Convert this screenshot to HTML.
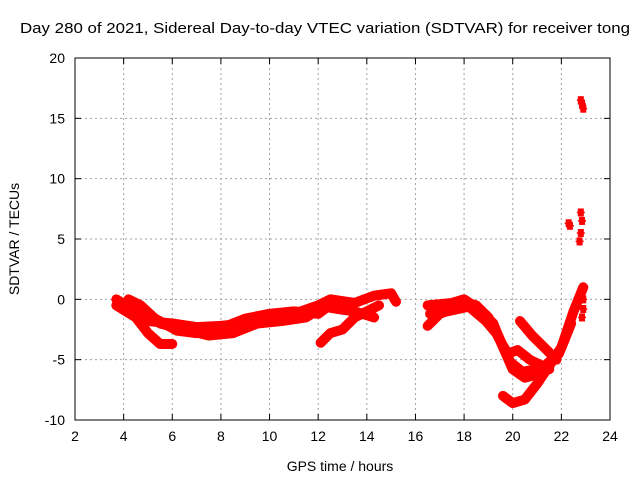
<!DOCTYPE html>
<html><head><meta charset="utf-8"><style>
body{margin:0;background:#fff}
svg{display:block;font-family:"Liberation Sans",sans-serif}
</style></head><body>
<svg id="c" width="640" height="480"></svg>
<script>
const xTicks=[2,4,6,8,10,12,14,16,18,20,22,24];
const yTicks=[-10,-5,0,5,10,15,20];
const trackA=[[3.7,0],[4.5,-1],[5,-1.8],[6,-2],[7,-2.3],[8,-2.2],[9,-2],[10,-1.3],[11,-1.2],[12,-0.5],[12.5,0],[13.5,-0.3],[14.3,0.3],[15,0.5],[15.2,-0.2]];
const trackB=[[3.7,-0.5],[4.5,-1.5],[5,-2.8],[5.5,-3.7],[6,-3.7]];
const trackC=[[4.2,0],[4.7,-0.5],[5.5,-2],[6.5,-2.5],[7.5,-3],[8.5,-2.8],[9.5,-2],[10.5,-1.8],[11.5,-1.5],[12.2,-0.6],[12.8,-0.8],[13.5,-1],[14.3,-1.5]];
const trackC2=[[4.5,-0.3],[5.2,-1.5],[6.2,-2.6],[7,-2.8],[8,-2.4],[9,-1.6],[10,-1.2],[11,-1],[12,-1.2],[12.6,-0.3]];
const trackD=[[12.1,-3.6],[12.5,-2.8],[13,-2.5],[13.5,-1.5],[14,-1],[14.5,-0.5]];
const trackE=[[16.5,-2.2],[17,-1.2],[17.5,-0.8],[18,-0.2],[18.5,-0.5],[19,-1.5],[19.5,-3.5],[20,-5.8],[20.5,-6.5],[21,-6.2],[21.5,-5.5],[22,-4],[22.5,-1],[22.9,1]];
const trackF=[[16.5,-0.5],[17.5,-0.3],[18,0],[18.6,-0.8],[19.2,-2],[19.5,-3.5],[19.8,-4.5],[20.2,-4.2],[20.7,-5],[21.2,-5.5],[21.5,-5.8]];
const trackF2=[[16.6,-1.2],[17.3,-1],[18.2,-0.6],[18.9,-1.8],[19.4,-3],[19.9,-5.2],[20.4,-6],[21.2,-5.7],[21.9,-4.5],[22.4,-2]];
const trackG=[[20.3,-1.8],[20.8,-3],[21.3,-4],[21.8,-5]];
const trackH=[[19.6,-8],[20,-8.6],[20.5,-8.3],[21,-7],[21.5,-5.5],[22,-4],[22.3,-2.5]];
const spikesX=[22.8,22.85,22.9,22.3,22.35,22.8,22.85,22.8,22.75,22.9,22.9,22.9,22.85];
const spikesY=[16.5,16.2,15.8,6.3,6.1,7.2,6.5,5.5,4.8,0.8,0,-0.8,-1.5];
const S=document.getElementById('c'),NS='http://www.w3.org/2000/svg';
const X0=75,X1=610,Y0=420,Y1=58;
const sx=h=>X0+(h-2)/22*(X1-X0), sy=v=>Y0-(v+10)/30*(Y0-Y1);
function mk(t,a,p){const e=document.createElementNS(NS,t);for(const k in a)e.setAttribute(k,a[k]);(p||S).appendChild(e);return e;}
const grid=mk('g',{});


xTicks.forEach(t=>{const x=sx(t);
 if(t>2&&t<24){mk('line',{x1:x,x2:x,y1:Y1,y2:Y0,stroke:'#a0a0a0','stroke-dasharray':'2,3'},grid);}
 mk('line',{x1:x,x2:x,y1:Y0,y2:Y0-6,stroke:'#000'});mk('line',{x1:x,x2:x,y1:Y1,y2:Y1+6,stroke:'#000'});
 const tx=mk('text',{x:x,y:Y0+21,'text-anchor':'middle','font-size':14});tx.textContent=t;
 
 });
yTicks.forEach(t=>{const y=sy(t);
 if(t>-10&&t<20)mk('line',{x1:X0,x2:X1,y1:y,y2:y,stroke:'#a0a0a0','stroke-dasharray':'2,3'},grid);
 mk('line',{x1:X0,x2:X0+6,y1:y,y2:y,stroke:'#000'});mk('line',{x1:X1,x2:X1-6,y1:y,y2:y,stroke:'#000'});
 const tx=mk('text',{x:X0-10,y:y+5,'text-anchor':'end','font-size':14});tx.textContent=t;
 
 });
const box=mk('rect',{x:X0,y:Y1,width:X1-X0,height:Y0-Y1,fill:'none',stroke:'#000'});


const series=[trackA,trackB,trackC,trackC2,trackD,trackE,trackF,trackF2,trackG,trackH];
series.forEach((tr,i)=>{
 const p=mk('polyline',{points:tr.map(d=>sx(d[0])+','+sy(d[1])).join(' '),fill:'none',stroke:'#ff0000','stroke-width':10,'stroke-linejoin':'round','stroke-linecap':'round'});
 
 
});
function cross(x,y){mk('path',{d:`M${x-4},${y}h8M${x},${y-4}v8`,stroke:'#ff0000','stroke-width':1.5});}
spikesX.forEach((h,i)=>{const x=sx(h),y=sy(spikesY[i]);
 const g=mk('rect',{x:x-3,y:y-4,width:6,height:8,fill:'#ff0000'});
 
 
 cross(x,y);});
const t=mk('text',{x:20,y:33,'font-size':15,textLength:610,lengthAdjust:'spacingAndGlyphs'});t.textContent='Day 280 of 2021, Sidereal Day-to-day VTEC variation (SDTVAR) for receiver tong';


const xl=mk('text',{x:340,y:471,'text-anchor':'middle','font-size':14});xl.textContent='GPS time / hours';


const yl=mk('text',{x:0,y:0,'text-anchor':'middle','font-size':14,transform:'translate(19,239) rotate(-90)'});yl.textContent='SDTVAR / TECUs';


</script>
</body></html>
